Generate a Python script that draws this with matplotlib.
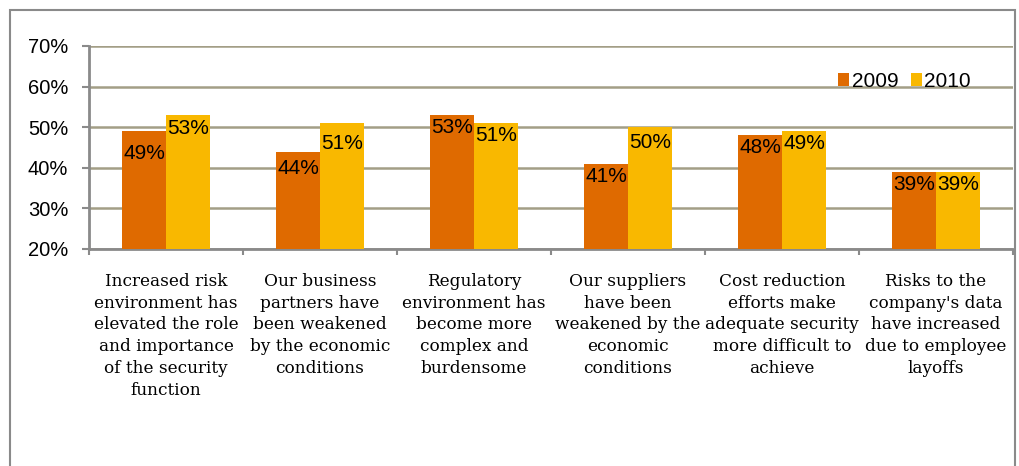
import matplotlib
matplotlib.use("Agg")
import matplotlib.pyplot as plt
import numpy as np
from matplotlib.patches import Rectangle

categories = [
    "Increased risk\nenvironment has\nelevated the role\nand importance\nof the security\nfunction",
    "Our business\npartners have\nbeen weakened\nby the economic\nconditions",
    "Regulatory\nenvironment has\nbecome more\ncomplex and\nburdensome",
    "Our suppliers\nhave been\nweakened by the\neconomic\nconditions",
    "Cost reduction\nefforts make\nadequate security\nmore difficult to\nachieve",
    "Risks to the\ncompany's data\nhave increased\ndue to employee\nlayoffs",
]
series_names = ["2009", "2010"]
values_2009 = [49, 44, 53, 41, 48, 39]
values_2010 = [53, 51, 51, 50, 49, 39]
y_ticks = [20, 30, 40, 50, 60, 70]

# label drop below bar top (in points), as placed in the original
drop_2009 = [9, 5, 2, 2, 2, 2]
drop_2010 = [3, 7.5, 2, 4.5, 2, 2]

col_2009 = "#DF6A00"
col_2010 = "#F9B800"
grid_col = "#A39E86"
axis_col = "#8A8A8A"

W, H = 1020, 466
fig = plt.figure(figsize=(W / 100, H / 100), dpi=100)

# outer border
fig.patches.append(Rectangle((10 / W, -0.05), (1015 - 10) / W, 1 - 10 / H + 0.05,
                             transform=fig.transFigure, fill=False,
                             edgecolor=axis_col, linewidth=1.5))

ax = fig.add_axes([89 / W, 1 - 249 / H, (1013 - 89) / W, (249 - 46) / H])

x = np.arange(len(categories))
bw = 0.285
b1 = ax.bar(x - bw / 2, values_2009, bw, color=col_2009, label=series_names[0], zorder=3)
b2 = ax.bar(x + bw / 2, values_2010, bw, color=col_2010, label=series_names[1], zorder=3)

ax.set_ylim(20, 70)
ax.set_xlim(-0.5, len(categories) - 0.5)
ax.set_yticks(y_ticks)
ax.set_yticklabels([f"{v}%" for v in y_ticks], family="Liberation Sans", fontsize=14.5)
ax.yaxis.grid(True, color=grid_col, linewidth=1.8, zorder=0)
ax.set_axisbelow(True)

ax.set_xticks(x)
ax.set_xticklabels(categories, family="DejaVu Serif", fontsize=12.2, linespacing=1.38)
ax.set_xticks(np.arange(len(categories) + 1) - 0.5, minor=True)
ax.tick_params(axis="x", which="major", length=0, pad=17)
ax.tick_params(axis="x", which="minor", length=4, width=1.5, color=axis_col)
ax.tick_params(axis="y", length=5, width=1.5, color=axis_col, pad=10)

for s in ["top", "right"]:
    ax.spines[s].set_visible(False)
for s in ["left", "bottom"]:
    ax.spines[s].set_color(axis_col)
    ax.spines[s].set_linewidth(2)

for bars, vals, drops in [(b1, values_2009, drop_2009), (b2, values_2010, drop_2010)]:
    for rect, v, d in zip(bars, vals, drops):
        ax.annotate(f"{v}%", (rect.get_x() + rect.get_width() / 2, v),
                    xytext=(0, -d), textcoords="offset points",
                    ha="center", va="top", family="Liberation Sans",
                    fontsize=15, zorder=4)

leg = ax.legend(loc="upper left", bbox_to_anchor=(838 / W, 1 - 72 / H),
                bbox_transform=fig.transFigure, ncol=2, frameon=False,
                prop={"family": "Liberation Sans", "size": 15},
                handlelength=0.55, handleheight=0.55, handletextpad=0.1,
                columnspacing=0.6, borderpad=0, borderaxespad=0)

fig.savefig("out.png", dpi=100)
